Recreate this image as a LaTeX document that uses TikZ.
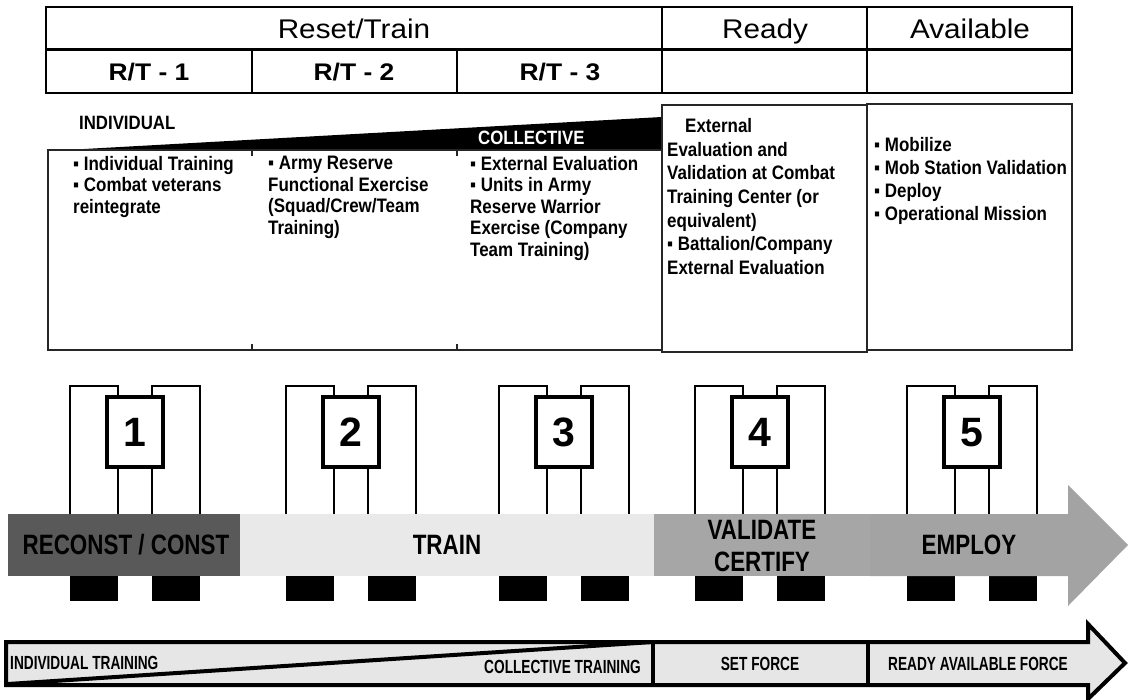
\documentclass[tikz,border=0pt]{standalone}
\usepackage{fontspec}
\setmainfont{Liberation Sans}
\newfontfamily\hdfont[FakeStretch=1.1]{Liberation Sans}
\newfontfamily\bdfont[FakeStretch=0.87]{Liberation Sans}
\newfontfamily\bandfont[FakeStretch=0.8]{Liberation Sans}
\newfontfamily\arrfont[FakeStretch=0.72]{Liberation Sans}
\definecolor{dkband}{HTML}{595959}
\definecolor{ltband}{HTML}{E9E9E9}
\definecolor{mdband}{HTML}{A6A6A6}
\definecolor{emband}{HTML}{A3A3A3}
\definecolor{arrfill}{HTML}{E6E6E6}
\tikzset{
  hdr/.style={font={\hdfont\fontsize{27}{30}\selectfont}, inner sep=0pt, anchor=base},
  rtl/.style={font={\hdfont\bfseries\fontsize{24}{28}\selectfont}, inner sep=0pt, anchor=base},
  body/.style={font={\bdfont\bfseries\fontsize{19.5}{21.5}\selectfont}, align=left, anchor=north west, inner sep=0pt},
  readytxt/.style={body, font={\bdfont\bfseries\fontsize{19.5}{23.7}\selectfont}},
  availtxt/.style={body, font={\bdfont\bfseries\fontsize{19.5}{23}\selectfont}},
  lbl/.style={font={\bdfont\bfseries\fontsize{19.3}{21}\selectfont}, anchor=base west, inner sep=0pt},
  bandtxt/.style={font={\bandfont\bfseries\fontsize{28}{32}\selectfont}, inner sep=0pt, align=center},
  arrtxt/.style={font={\arrfont\bfseries\fontsize{19}{22}\selectfont}, inner sep=0pt},
  tbl/.style={line width=2.2pt},
  boxline/.style={line width=1.5pt, draw=black!85},
  pillar/.style={line width=2.5pt, draw=black, fill=white},
  numbox/.style={draw=black, line width=3.5pt, fill=white, minimum width=56pt, minimum height=70pt, inner sep=0pt, text height=29.5pt, text depth=0pt, font={\bfseries\fontsize{41}{43}\selectfont}},
  thick4/.style={line width=4pt, line join=miter},
}
\begin{document}
\begin{tikzpicture}[x=1pt,y=-1pt]
\useasboundingbox (0,0) rectangle (1129,700);

% ---------- top table ----------
\draw[tbl] (46,7) rectangle (1072,93);
\draw[line width=3pt] (46,50) -- (1072,50);
\draw[tbl] (662,7) -- (662,93);
\draw[tbl] (867,7) -- (867,93);
\draw[tbl] (252,50) -- (252,93);
\draw[tbl] (457,50) -- (457,93);
\node[hdr] (reset) at (354,39) {Reset/Train};
\node[hdr] (ready) at (765,39) {Ready};
\node[hdr] (avail) at (970,39) {Available};
\node[rtl] (rt1) at (149,81) {R/T - 1};
\node[rtl] (rt2) at (354,81) {R/T - 2};
\node[rtl] (rt3) at (560,81) {R/T - 3};

% ---------- activity boxes ----------
\fill (48,151) -- (662,117) -- (662,150) -- cycle;
\draw[boxline] (48,150) rectangle (662,350);
\draw[boxline] (252,150) -- (252,156);
\draw[boxline] (457,150) -- (457,156);
\draw[boxline] (252,344) -- (252,350);
\draw[boxline] (457,344) -- (457,350);
\draw[boxline] (662,105) rectangle (867,352);
\draw[boxline] (867,104) rectangle (1072,350);

\node[lbl] (indiv) at (79,130) {INDIVIDUAL};
\node[lbl, text=white] (coll) at (478,145) {COLLECTIVE};

\node[body] (c1) at (73,156) {▪ Individual Training\\▪ Combat veterans\\reintegrate};
\node[body] (c2) at (268,156) {▪ Army Reserve\\Functional Exercise\\(Squad/Crew/Team\\Training)};
\node[body] (c3) at (470,156) {▪ External Evaluation\\▪ Units in Army\\Reserve Warrior\\Exercise (Company\\Team Training)};
\node[readytxt] (c4) at (667,118) {\hspace{18pt}External\\Evaluation and\\Validation at Combat\\Training Center (or\\equivalent)\\▪ Battalion/Company\\External Evaluation};
\node[availtxt] (c5) at (874,137) {▪ Mobilize\\▪ Mob Station Validation\\▪ Deploy\\▪ Operational Mission};

% ---------- icons (pillars and feet) ----------
\foreach \c in {135,351,564,760,972}{
  \draw[pillar] (\c-65,386) rectangle (\c-17,520);
  \draw[pillar] (\c+17,386) rectangle (\c+65,520);
  \fill (\c-65,576) rectangle (\c-17,601);
  \fill (\c+17,576) rectangle (\c+65,601);
}

% ---------- phase band ----------
\fill[dkband] (8,514) rectangle (240,576);
\fill[ltband] (240,514) rectangle (654,576);
\fill[mdband] (654,514) rectangle (870,576);
\fill[emband] (870,514) -- (1068,514) -- (1068,485) -- (1128,545) -- (1068,606) -- (1068,576) -- (870,576) -- cycle;

\foreach \c/\n in {135/1,351/2,564/3,760/4,972/5}{
  \node[numbox] (n\n) at (\c,432) {\n};
}

\node[bandtxt] (recon) at (126,545) {RECONST / CONST};
\node[bandtxt] (train) at (447,545) {TRAIN};
\node[bandtxt] (valid) at (762,546) {VALIDATE\\CERTIFY};
\node[bandtxt] (employ) at (969,545) {EMPLOY};

% ---------- bottom arrow ----------
\draw[thick4, fill=arrfill] (6,642) -- (1088,642) -- (1088,624) -- (1125,663) -- (1088,699) -- (1088,685) -- (6,685) -- cycle;
\coordinate (dgA) at (8,684);
\coordinate (dgB) at (653,642);
\draw[thick4] (dgA) -- (dgB);
\draw[thick4] (653,642) -- (653,685);
\draw[thick4] (868,642) -- (868,685);
\node[arrtxt, anchor=base west] (it) at (10,669) {INDIVIDUAL TRAINING};
\node[arrtxt, anchor=base east] (ct) at (641,673) {COLLECTIVE TRAINING};
\node[arrtxt, anchor=base] (sf) at (760,670) {SET FORCE};
\node[arrtxt, anchor=base] (raf) at (978,670) {READY AVAILABLE FORCE};
\end{tikzpicture}
\end{document}
